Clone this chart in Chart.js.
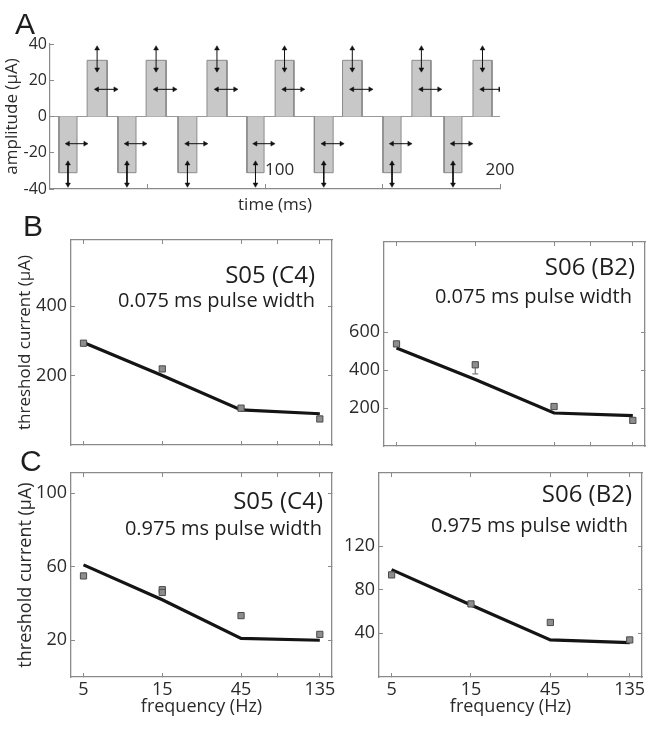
<!DOCTYPE html>
<html>
<head>
<meta charset="utf-8">
<title>Threshold current vs stimulation frequency</title>
<script src="https://cdn.jsdelivr.net/npm/chart.js@4.4.1/dist/chart.umd.min.js"></script>
<style>
  body { margin: 0; background: #fff; }
  #fig { position: relative; width: 666px; height: 729px; overflow: hidden; background: #fff; }
  #fig canvas { position: absolute; }
  .tag { position: absolute; font: 30px "Liberation Sans", Arial, sans-serif; line-height: 30px; color: #1e1e1e; }
</style>
</head>
<body>
<div id="fig">
  <canvas id="pA" width="530" height="225" style="left:0;top:0"></canvas>
  <canvas id="pBL" width="345" height="255" style="left:0;top:205px"></canvas>
  <canvas id="pBR" width="321" height="255" style="left:345px;top:205px"></canvas>
  <canvas id="pCL" width="345" height="269" style="left:0;top:460px"></canvas>
  <canvas id="pCR" width="321" height="269" style="left:345px;top:460px"></canvas>
  <div class="tag" style="left:15px;top:9px">A</div>
  <div class="tag" style="left:23px;top:211px">B</div>
  <div class="tag" style="left:20px;top:446px">C</div>
</div>
<script>
// ---- panel A: pulse train (times in ms, amplitude in uA) ----
const cathodicOn  = [12.3, 37.4, 63.0, 92.3, 121.0, 150.2, 176.2];
const cathodicOff = [20.0, 45.1, 71.0, 99.6, 129.0, 157.9, 183.8];
const anodicOn    = [24.3, 49.4, 75.3, 104.3, 133.0, 162.5, 188.5];
const anodicOff   = [32.8, 57.9, 83.8, 112.3, 141.3, 170.6, 196.6];
const pulseAmp = 31;
const arrowSpanV = [26, 37.5];
const arrowLevelH = 15;
const timeTicks = [50, 100, 150, 200];
const timeTickLabels = ['', '100', '', '200'];
const ampTicks = [-40, -30, -20, -10, 0, 10, 20, 30, 40];

// ---- panels B and C: threshold current vs frequency ----
const freqHz = [5, 15, 45, 135];
const freqTicks = [5, 15, 45, 75, 135];

const s05Thresh075 = [293, 219, 106, 75];
const s05Fit075    = [295, 200, 101, 90];
const s06Thresh075 = [538, 428, 208, 135];
const s06Fit075    = [516, 350, 174, 160];
const s06Err075    = [null, 380, null, null];

const s05Thresh975 = [55, 46, 33.4, 23.2];
const s05Repeat975 = [null, 47.5, null, null];
const s05Fit975    = [61, 42, 21, 20];
const s06Thresh975 = [93.6, 67, 50, 34];
const s06Fit975    = [98.4, 66, 34, 31.5];

const axisGray = '#8a8a8a';
const textGray = '#2a2a2a';
Chart.defaults.font.family = '"Open Sans", sans-serif';
Chart.defaults.color = textGray;

function noPad(s) { s.paddingLeft = s.paddingRight = s.paddingTop = s.paddingBottom = 0; }
const fixW = w => s => { s.width = w; noPad(s); };
const fixH = h => s => { s.height = h; noPad(s); };
const setTicks = vals => s => { s.ticks = vals.map(v => ({ value: v })); };

// text inside the plot box (subject / pulse width)
const panelText = {
  id: 'panelText',
  afterDraw(chart, args, opts) {
    const { ctx, chartArea } = chart;
    ctx.save();
    ctx.fillStyle = '#1e1e1e';
    ctx.textAlign = 'right';
    ctx.textBaseline = 'alphabetic';
    (opts.lines || []).forEach(l => {
      ctx.font = l.size + 'px "Open Sans"';
      ctx.fillText(l.text, chartArea.right - l.dx, chartArea.top + l.dy);
    });
    ctx.restore();
  }
};

// panel A has its time labels sitting just above the axis
const insideTimeLabels = {
  id: 'insideTimeLabels',
  afterDraw(chart) {
    const { ctx, chartArea } = chart;
    const sx = chart.scales.x;
    ctx.save();
    ctx.font = '17px "Open Sans"';
    ctx.fillStyle = textGray;
    ctx.textBaseline = 'middle';
    timeTicks.forEach((v, i) => {
      if (!timeTickLabels[i]) return;
      ctx.textAlign = i === timeTicks.length - 1 ? 'center' : 'left';
      ctx.fillText(timeTickLabels[i], sx.getPixelForValue(v), chartArea.bottom - 19);
    });
    ctx.restore();
  }
};

// ---------- panel A ----------
const pulseSets = [];
const arrowSets = [];

function arrow(pts, rot) {
  return {
    data: pts, borderColor: '#111', borderWidth: 1,
    pointStyle: 'triangle', pointRadius: 2.8, pointRotation: rot,
    pointBackgroundColor: '#111', pointBorderColor: '#111', pointBorderWidth: 0.5,
    order: 0
  };
}

function addPulse(on, off, amp) {
  pulseSets.push({
    data: [{ x: on, y: 0 }, { x: on, y: amp }, { x: off, y: amp }, { x: off, y: 0 }],
    fill: 'origin', backgroundColor: '#c8c8c8',
    borderColor: '#8a8a8a', borderWidth: 1, pointRadius: 0, order: 1
  });
  const s = Math.sign(amp), mid = (on + off) / 2;
  arrowSets.push(arrow([{ x: mid, y: s * arrowSpanV[0] }, { x: mid, y: s * arrowSpanV[1] }],
                       s > 0 ? [180, 0] : [0, 180]));
  arrowSets.push(arrow([{ x: mid, y: s * arrowLevelH }, { x: off + 3.5, y: s * arrowLevelH }],
                       [270, 90]));
}
cathodicOn.forEach((t, i) => addPulse(t, cathodicOff[i], -pulseAmp));
anodicOn.forEach((t, i) => addPulse(t, anodicOff[i], pulseAmp));

new Chart(document.getElementById('pA'), {
  type: 'line',
  data: { datasets: [...arrowSets, ...pulseSets] },
  plugins: [insideTimeLabels],
  options: {
    responsive: false, animation: false,
    layout: { padding: { top: 44, right: 30, left: 0, bottom: 0 }, autoPadding: false },
    plugins: { legend: { display: false }, tooltip: { enabled: false } },
    scales: {
      x: {
        type: 'linear', min: 8.5, max: 200,
        afterBuildTicks: setTicks(timeTicks), afterFit: fixH(36),
        ticks: { display: false },
        grid: { drawOnChartArea: false, tickLength: -5, tickColor: axisGray },
        border: { color: axisGray, width: 1.2 },
        title: { display: true, text: 'time (ms)', font: { size: 17 }, color: textGray,
                 padding: { top: 0, bottom: 10 } }
      },
      y: {
        min: -40, max: 40,
        afterBuildTicks: setTicks(ampTicks), afterFit: fixW(50),
        ticks: { font: { size: 16 }, color: textGray, padding: 7,
                 callback: v => (v % 20 === 0 ? String(v) : '') },
        grid: {
          drawOnChartArea: true, tickLength: -4, tickColor: axisGray,
          color: c => (c.tick && c.tick.value === 0 ? '#9a9a9a' : 'rgba(0,0,0,0)')
        },
        border: { color: axisGray, width: 1.2 },
        title: { display: true, text: 'amplitude (µA)', font: { size: 17 }, color: textGray,
                 padding: { top: 2, bottom: 0 } }
      }
    }
  }
});

// ---------- panels B / C ----------
function freqPanel(id, o) {
  const pts = arr => freqHz.map((f, i) => ({ x: f, y: arr[i] })).filter(p => p.y != null);
  const square = data => ({
    data, showLine: false, pointStyle: 'rect', pointRadius: 4.4,
    pointBackgroundColor: '#8d8d8d', pointBorderColor: '#4a4a4a', pointBorderWidth: 1, order: 0
  });
  const datasets = [square(pts(o.thresh))];
  if (o.repeat) datasets.push(square(pts(o.repeat)));
  if (o.errLow) {
    o.errLow.forEach((lo, i) => {
      if (lo == null) return;
      datasets.push({
        data: [{ x: freqHz[i], y: o.thresh[i] }, { x: freqHz[i], y: lo }],
        borderColor: '#777', borderWidth: 1.2, pointStyle: 'line',
        pointRadius: [0, 3], pointBorderColor: '#777', pointBorderWidth: 1.2, order: 1
      });
    });
  }
  datasets.push({ data: pts(o.fit), borderColor: '#141414', borderWidth: 3.2, pointRadius: 0, order: 2 });

  const edge = () => ({
    border: { color: axisGray, width: 1.3 },
    grid: { drawOnChartArea: false, tickLength: -4, tickColor: axisGray }
  });
  const xLim = { type: 'logarithmic', min: 4.2, max: 160, bounds: 'data', afterBuildTicks: setTicks(freqTicks) };
  const yLim = { type: 'linear', min: 0, max: o.ymax, afterBuildTicks: setTicks(o.yticks) };

  new Chart(document.getElementById(id), {
    type: 'line',
    data: { datasets },
    plugins: [panelText],
    options: {
      responsive: false, animation: false,
      layout: { padding: { top: o.padTop, right: o.padRight, left: 0, bottom: 0 }, autoPadding: false },
      plugins: {
        legend: { display: false }, tooltip: { enabled: false },
        panelText: { lines: o.lines }
      },
      scales: {
        x: {
          ...xLim, ...edge(), afterFit: fixH(o.xH),
          ticks: { display: o.showX, font: { size: 18 }, color: textGray, padding: 6,
                   maxRotation: 0, autoSkip: false, callback: v => (v === 75 ? '' : String(v)) },
          title: { display: o.showX, text: 'frequency (Hz)', font: { size: 18 }, color: textGray,
                   padding: { top: 0, bottom: 11 } }
        },
        x2: { ...xLim, ...edge(), position: 'top', afterFit: fixH(0), ticks: { display: false } },
        y: {
          ...yLim, ...edge(), afterFit: fixW(o.yW),
          ticks: { font: { size: 18 }, color: textGray, padding: 8 },
          title: { display: !!o.ytitle, text: o.ytitle || '', font: { size: o.ytitleSize || 17 },
                   color: textGray, padding: { top: 15, bottom: 0 } }
        },
        y2: { ...yLim, ...edge(), position: 'right', afterFit: fixW(0), ticks: { display: false } }
      }
    }
  });
}

freqPanel('pBL', {
  thresh: s05Thresh075, fit: s05Fit075, ymax: 590, yticks: [200, 400],
  yW: 71, xH: 15, padTop: 35, padRight: 13, showX: false,
  ytitle: 'threshold current (µA)', ytitleSize: 17,
  lines: [{ text: 'S05 (C4)', size: 24, dx: 17, dy: 43 },
          { text: '0.075 ms pulse width', size: 20, dx: 17, dy: 67 }]
});
freqPanel('pBR', {
  thresh: s06Thresh075, fit: s06Fit075, errLow: s06Err075, ymax: 1075, yticks: [200, 400, 600],
  yW: 39, xH: 14, padTop: 37, padRight: 21, showX: false,
  lines: [{ text: 'S06 (B2)', size: 24, dx: 10, dy: 33 },
          { text: '0.075 ms pulse width', size: 20, dx: 13, dy: 61 }]
});
freqPanel('pCL', {
  thresh: s05Thresh975, repeat: s05Repeat975, fit: s05Fit975, ymax: 111, yticks: [20, 60, 100],
  yW: 71, xH: 52, padTop: 13, padRight: 13, showX: true,
  ytitle: 'threshold current (µA)', ytitleSize: 18,
  lines: [{ text: 'S05 (C4)', size: 24, dx: 9, dy: 36 },
          { text: '0.975 ms pulse width', size: 20, dx: 10, dy: 62 }]
});
freqPanel('pCR', {
  thresh: s06Thresh975, fit: s06Fit975, ymax: 187, yticks: [40, 80, 120],
  yW: 34, xH: 52, padTop: 13, padRight: 24, showX: true,
  lines: [{ text: 'S06 (B2)', size: 24, dx: 10, dy: 29 },
          { text: '0.975 ms pulse width', size: 20, dx: 14, dy: 59 }]
});
</script>
</body>
</html>
